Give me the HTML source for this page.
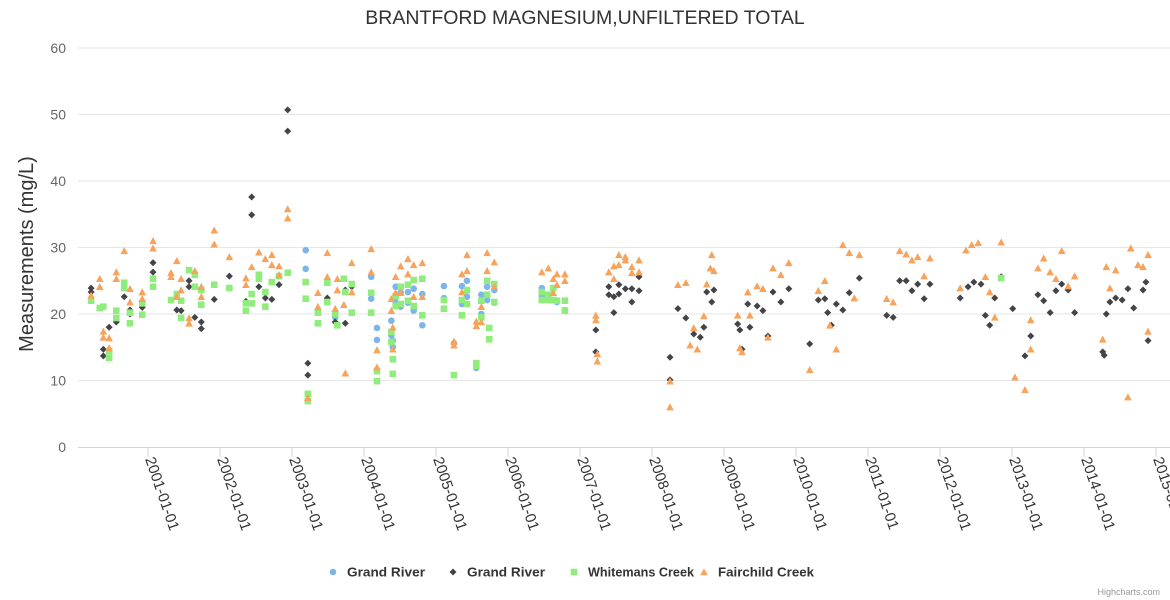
<!DOCTYPE html>
<html><head><meta charset="utf-8">
<style>
html,body{margin:0;padding:0;background:#fff;}
svg{display:block;font-family:"Liberation Sans",Arial,sans-serif;}
</style></head>
<body>
<svg id="chart" width="1170" height="600" viewBox="0 0 1170 600">
<rect width="1170" height="600" fill="#fff"/>
<text x="585" y="24" text-anchor="middle" font-size="19.5" fill="#333">BRANTFORD MAGNESIUM,UNFILTERED TOTAL</text>
<text transform="translate(33,254) rotate(-90)" text-anchor="middle" font-size="20" fill="#333">Measurements (mg/L)</text>
<g id="grid"></g>
<g id="xaxis"></g>
<g id="marks"></g>
<g id="legend"></g>
<text x="1160" y="595" text-anchor="end" font-size="9" fill="#999">Highcharts.com</text>
</svg>
<script>
const yTicks = [0,10,20,30,40,50,60];
const xTickYears = [2001,2002,2003,2004,2005,2006,2007,2008,2009,2010,2011,2012,2013,2014,2015];
const seriesNames = ["Grand River","Grand River","Whitemans Creek","Fairchild Creek"];
const grandRiverBlue = [[2003.19,29.6],[2003.19,26.8],[2003.60,19.5],[2004.10,25.6],[2004.10,22.3],[2004.18,17.9],[2004.18,16.1],[2004.38,19.0],[2004.38,16.8],[2004.40,16],[2004.40,15],[2004.44,24.1],[2004.44,21.8],[2004.51,23.2],[2004.51,21.1],[2004.61,23.3],[2004.61,21.7],[2004.69,23.8],[2004.69,20.5],[2004.81,23],[2004.81,18.3],[2005.11,24.2],[2005.11,22.4],[2005.25,15.6],[2005.36,24.2],[2005.36,21.5],[2005.43,25],[2005.43,22.6],[2005.56,11.9],[2005.63,22.9],[2005.63,20],[2005.71,24.1],[2005.71,22.1],[2005.81,23.6],[2005.81,21.7],[2006.47,23.9],[2006.47,22.6],[2006.56,22.4],[2006.68,21.8],[2006.79,20.6]];
const grandRiverBlack = [[2000.21,23.9],[2000.21,23.3],[2000.38,14.7],[2000.38,13.7],[2000.46,18.0],[2000.56,18.8],[2000.67,22.6],[2000.75,20.6],[2000.75,20],[2000.92,21],[2001.07,27.7],[2001.07,26.3],[2001.40,20.6],[2001.46,20.5],[2001.57,25],[2001.57,24.1],[2001.65,19.5],[2001.74,18.8],[2001.74,17.8],[2001.92,22.2],[2002.13,25.7],[2002.36,21.9],[2002.44,37.6],[2002.44,34.9],[2002.54,24.1],[2002.63,22.4],[2002.72,22.2],[2002.82,24.4],[2002.94,50.7],[2002.94,47.5],[2003.22,12.6],[2003.22,10.8],[2003.36,18.6],[2003.49,22.4],[2003.60,18.8],[2003.74,23.6],[2003.74,18.6],[2003.83,24.1],[2007.22,17.6],[2007.22,14.3],[2007.40,24.1],[2007.40,22.9],[2007.47,22.6],[2007.47,20.2],[2007.54,24.4],[2007.54,23],[2007.63,23.8],[2007.72,23.8],[2007.72,21.8],[2007.82,25.6],[2007.82,23.5],[2008.25,10.1],[2008.25,13.5],[2008.36,20.8],[2008.47,19.4],[2008.58,17],[2008.67,16.5],[2008.72,18],[2008.76,23.3],[2008.83,21.8],[2008.86,23.6],[2009.19,18.5],[2009.22,17.6],[2009.25,14.7],[2009.33,21.5],[2009.36,18],[2009.46,21.2],[2009.54,20.5],[2009.61,16.7],[2009.68,23.3],[2009.79,21.8],[2009.90,23.8],[2010.19,15.5],[2010.31,22.1],[2010.40,22.3],[2010.44,20.2],[2010.49,18.3],[2010.56,21.5],[2010.65,20.6],[2010.74,23.2],[2010.88,25.4],[2011.26,19.8],[2011.35,19.5],[2011.44,25],[2011.53,25],[2011.61,23.5],[2011.69,24.5],[2011.78,22.3],[2011.86,24.5],[2012.28,22.4],[2012.39,24.1],[2012.47,24.8],[2012.57,24.5],[2012.63,19.8],[2012.69,18.3],[2012.76,22.4],[2012.85,25.6],[2013.01,20.8],[2013.18,13.7],[2013.26,16.7],[2013.36,22.9],[2013.44,22],[2013.53,20.2],[2013.61,23.5],[2013.69,24.5],[2013.78,23.6],[2013.87,20.2],[2014.26,14.3],[2014.28,13.8],[2014.31,20],[2014.36,21.8],[2014.44,22.4],[2014.53,22.1],[2014.61,23.8],[2014.69,20.9],[2014.82,23.6],[2014.86,24.8],[2014.89,16]];
const whitemansCreek = [[2000.21,22],[2000.33,20.9],[2000.38,21.1],[2000.46,14.4],[2000.46,13.4],[2000.56,20.5],[2000.56,19.4],[2000.67,24.7],[2000.67,23.9],[2000.75,20.2],[2000.75,18.6],[2000.92,21.6],[2000.92,19.9],[2001.07,25.3],[2001.07,24.1],[2001.32,22.1],[2001.40,23],[2001.46,22],[2001.46,19.4],[2001.57,26.6],[2001.65,25.9],[2001.65,24.1],[2001.74,23.6],[2001.74,21.4],[2001.92,24.4],[2002.13,23.9],[2002.36,21.6],[2002.36,20.5],[2002.44,23],[2002.44,21.6],[2002.54,25.9],[2002.54,25.3],[2002.63,23.3],[2002.63,21.1],[2002.72,24.8],[2002.82,25.7],[2002.94,26.2],[2003.19,24.8],[2003.19,22.3],[2003.22,8],[2003.22,6.9],[2003.36,20.2],[2003.36,18.6],[2003.49,24.7],[2003.49,21.8],[2003.60,20],[2003.63,18.3],[2003.72,25.3],[2003.74,23.3],[2003.83,24.5],[2003.83,20.2],[2004.10,23.2],[2004.10,20.2],[2004.18,11.4],[2004.18,9.9],[2004.38,17.3],[2004.38,15.8],[2004.40,13.2],[2004.40,11],[2004.44,22.7],[2004.44,21.2],[2004.51,24.1],[2004.51,21.5],[2004.61,24.4],[2004.61,22],[2004.69,25.1],[2004.69,21.2],[2004.81,25.3],[2004.81,19.8],[2005.11,22.1],[2005.11,20.8],[2005.25,10.8],[2005.36,22.1],[2005.36,19.8],[2005.43,23.6],[2005.43,21.5],[2005.56,12.6],[2005.56,12.2],[2005.63,22],[2005.63,19.5],[2005.71,25],[2005.71,22.9],[2005.74,17.9],[2005.74,16.2],[2005.81,24.5],[2005.81,21.8],[2006.47,23.3],[2006.47,22.1],[2006.56,22.9],[2006.56,22.1],[2006.63,23.9],[2006.63,22.1],[2006.68,22],[2006.79,22],[2006.79,20.5],[2012.85,25.4]];
const fairchildCreek = [[2000.21,22.8],[2000.33,25.3],[2000.33,24.1],[2000.38,17.4],[2000.38,16.5],[2000.46,16.4],[2000.46,14.9],[2000.56,26.3],[2000.56,25.3],[2000.67,29.5],[2000.75,23.8],[2000.75,21.8],[2000.92,23.3],[2000.92,22.3],[2001.07,31],[2001.07,29.9],[2001.32,26.2],[2001.32,25.6],[2001.40,28],[2001.40,22.6],[2001.46,25.3],[2001.46,23.6],[2001.57,19.4],[2001.57,18.6],[2001.65,26.5],[2001.74,24.1],[2001.74,22.6],[2001.92,32.6],[2001.92,30.5],[2002.13,28.6],[2002.36,25.4],[2002.36,24.4],[2002.44,27.1],[2002.54,29.3],[2002.63,28.3],[2002.72,28.9],[2002.72,27.4],[2002.82,27.2],[2002.82,25.9],[2002.94,35.8],[2002.94,34.4],[2003.22,7.4],[2003.36,23.2],[2003.36,21.1],[2003.49,29.2],[2003.49,25.6],[2003.60,20.8],[2003.63,23.6],[2003.63,25.3],[2003.72,21.4],[2003.74,11.1],[2003.83,27.7],[2003.83,23.3],[2004.10,29.8],[2004.10,26.3],[2004.18,14.6],[2004.18,12],[2004.38,22.3],[2004.38,20.5],[2004.40,18],[2004.40,14.7],[2004.44,25.6],[2004.44,23.2],[2004.51,27.2],[2004.51,23.2],[2004.61,28.3],[2004.61,26],[2004.69,27.4],[2004.69,22.6],[2004.81,27.7],[2004.81,22.6],[2005.25,15.9],[2005.25,15.3],[2005.36,26],[2005.36,23.3],[2005.43,28.9],[2005.43,26.5],[2005.56,18.9],[2005.56,18.2],[2005.63,21.1],[2005.63,18.8],[2005.71,29.2],[2005.71,26.5],[2005.81,27.8],[2005.81,24.1],[2006.47,26.3],[2006.56,26.9],[2006.63,25.3],[2006.63,23.2],[2006.68,26],[2006.68,24.4],[2006.79,26],[2006.79,25],[2007.22,19.8],[2007.22,19.1],[2007.24,14],[2007.24,12.9],[2007.40,26.3],[2007.47,27.2],[2007.47,25.3],[2007.54,28.9],[2007.54,27.4],[2007.63,28.6],[2007.63,28.1],[2007.72,27.1],[2007.72,26.2],[2007.82,28.1],[2007.82,26.3],[2008.25,9.9],[2008.25,6],[2008.36,24.4],[2008.47,24.7],[2008.53,15.3],[2008.58,17.9],[2008.63,14.7],[2008.72,19.7],[2008.76,24.5],[2008.81,26.9],[2008.83,28.9],[2008.86,26.5],[2009.19,19.8],[2009.22,14.9],[2009.25,14.3],[2009.33,23.3],[2009.36,19.8],[2009.46,24.2],[2009.54,23.8],[2009.61,16.5],[2009.68,26.9],[2009.79,25.9],[2009.90,27.7],[2010.19,11.6],[2010.31,23.5],[2010.40,25],[2010.47,18.3],[2010.56,14.7],[2010.65,30.4],[2010.74,29.2],[2010.81,22.4],[2010.88,28.9],[2011.26,22.3],[2011.35,21.8],[2011.44,29.5],[2011.53,29],[2011.61,28.1],[2011.69,28.6],[2011.78,25.7],[2011.86,28.4],[2012.28,23.9],[2012.36,29.6],[2012.44,30.4],[2012.53,30.7],[2012.63,25.6],[2012.69,23.3],[2012.76,19.5],[2012.85,30.8],[2013.04,10.5],[2013.18,8.6],[2013.26,19.1],[2013.26,14.7],[2013.36,26.9],[2013.44,28.4],[2013.53,26.3],[2013.61,25.3],[2013.69,29.5],[2013.78,24.2],[2013.87,25.7],[2014.26,16.2],[2014.31,27.1],[2014.36,23.9],[2014.44,26.6],[2014.61,7.5],[2014.65,29.9],[2014.75,27.4],[2014.82,27.1],[2014.89,28.9],[2014.89,17.4]];

const NS = "http://www.w3.org/2000/svg";
const plotLeft = 78, plotRight = 1170, plotTop = 48, plotBottom = 447;
function xScale(yr){ return 148 + (yr - 2001) * 72; }
function yScale(v){ return plotBottom - (v / 60) * (plotBottom - plotTop); }
function mk(tag, attrs, parent){ const e = document.createElementNS(NS, tag); for (const k in attrs) e.setAttribute(k, attrs[k]); parent.appendChild(e); return e; }

const grid = document.getElementById('grid');
yTicks.forEach(t => {
  const y = yScale(t);
  if (t > 0) {
    const l = mk('line', {x1: plotLeft, x2: plotRight, y1: y, y2: y, stroke: '#e6e6e6', 'stroke-width': 1}, grid);
    
    
  }
  const tx = mk('text', {x: 66, y: y + 5, 'text-anchor': 'end', 'font-size': 14, fill: '#666'}, grid);
  tx.textContent = t;
  
  
});

const xa = document.getElementById('xaxis');
const axisLine = mk('line', {x1: plotLeft, x2: plotRight, y1: plotBottom + 0.5, y2: plotBottom + 0.5, stroke: '#ccd6eb', 'stroke-width': 1}, xa);


xTickYears.forEach(yr => {
  const x = xScale(yr);
  const tk = mk('line', {x1: x, x2: x, y1: plotBottom, y2: plotBottom + 10, stroke: '#ccd6eb', 'stroke-width': 1}, xa);
  
  
  const lb = mk('text', {transform: 'translate(' + (x - 3) + ',' + (plotBottom + 12) + ') rotate(71)', 'font-size': 15, fill: '#333'}, xa);
  lb.textContent = yr + '-01-01';
  
  
});

const marks = document.getElementById('marks');
function drawMarker(type, x, y, color, parent){
  let e;
  if (type === 'circle') e = mk('circle', {cx: x, cy: y, r: 3.3, fill: color}, parent);
  else if (type === 'diamond') e = mk('path', {d: 'M' + x + ' ' + (y - 3.5) + 'L' + (x + 3.5) + ' ' + y + 'L' + x + ' ' + (y + 3.5) + 'L' + (x - 3.5) + ' ' + y + 'Z', fill: color}, parent);
  else if (type === 'square') e = mk('rect', {x: x - 3.3, y: y - 3.3, width: 6.6, height: 6.6, fill: color}, parent);
  else e = mk('path', {d: 'M' + x + ' ' + (y - 3.8) + 'L' + (x + 3.8) + ' ' + (y + 3.3) + 'L' + (x - 3.8) + ' ' + (y + 3.3) + 'Z', fill: color}, parent);
  return e;
}
const seriesDefs = [
  {data: grandRiverBlue, type: 'circle', color: '#7cb5ec', key: 'grand-river-blue'},
  {data: grandRiverBlack, type: 'diamond', color: '#434348', key: 'grand-river-black'},
  {data: whitemansCreek, type: 'square', color: '#90ed7d', key: 'whitemans-creek'},
  {data: fairchildCreek, type: 'triangle', color: '#f7a35c', key: 'fairchild-creek'}
];
seriesDefs.forEach(s => {
  const g = mk('g', {}, marks);
  
  
  s.data.forEach(p => {
    const m = drawMarker(s.type, xScale(p[0]), yScale(p[1]), s.color, g);
    
    
  });
});

const legend = document.getElementById('legend');
const legendX = [333, 453, 574, 704];
seriesDefs.forEach((s, i) => {
  const g = mk('g', {}, legend);
  
  
  drawMarker(s.type, legendX[i], 572, s.color, g);
  const t = mk('text', {x: legendX[i] + 14, y: 576.5, 'font-size': 13, 'font-weight': 'bold', fill: '#333', textLength: [78, 78, 106, 96][i], lengthAdjust: 'spacingAndGlyphs'}, g);
  t.textContent = seriesNames[i];
});
</script>
</body></html>
